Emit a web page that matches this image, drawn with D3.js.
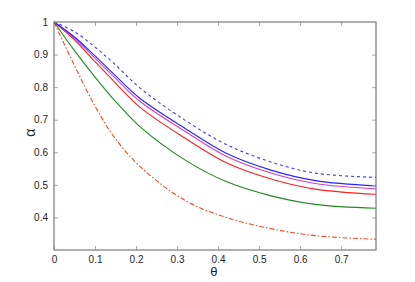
<!DOCTYPE html>
<html>
<head>
<meta charset="utf-8">
<script src="https://cdn.jsdelivr.net/npm/d3@7"></script>
<style>
  html, body { margin: 0; padding: 0; background: #fff; }
  svg { display: block; font-family: "Liberation Sans", Arial, sans-serif; }
</style>
</head>
<body>
<svg id="chart" width="415" height="282"></svg>
<script>
// values
const thetaSamples = [0, 0.05, 0.1, 0.146, 0.21, 0.32, 0.42, 0.527, 0.637, 0.785];
const blueDashed = [1, 0.970, 0.923, 0.873, 0.797, 0.698, 0.624, 0.571, 0.536, 0.523];
const blueSolid = [1, 0.954, 0.896, 0.840, 0.765, 0.673, 0.597, 0.546, 0.513, 0.497];
const magentaSolid = [1, 0.950, 0.889, 0.832, 0.756, 0.664, 0.588, 0.537, 0.504, 0.488];
const redSolid = [1, 0.945, 0.878, 0.818, 0.738, 0.643, 0.568, 0.519, 0.487, 0.471];
const greenSolid = [1, 0.912, 0.831, 0.762, 0.678, 0.576, 0.510, 0.467, 0.440, 0.428];
const redDashDot = [1, 0.866, 0.742, 0.648, 0.556, 0.452, 0.400, 0.366, 0.344, 0.333];

const xTicks = [0, 0.1, 0.2, 0.3, 0.4, 0.5, 0.6, 0.7];
const yTicks = [0.4, 0.5, 0.6, 0.7, 0.8, 0.9, 1];

const seriesList = [
  { values: redDashDot, color: "#ee4a2a", dash: "5,2,1.5,2" },
  { values: greenSolid, color: "#1f8c1f", dash: null },
  { values: redSolid, color: "#ff1f1f", dash: null },
  { values: magentaSolid, color: "#cc3fd8", dash: null },
  { values: blueSolid, color: "#2626ff", dash: null },
  { values: blueDashed, color: "#3a3aff", dash: "3,3" }
];

const svg = d3.select("#chart");
const margin = { top: 22, right: 39, bottom: 32, left: 54 };
const width = 415;
const height = 282;

const x = d3.scaleLinear()
  .domain([0, 0.785])
  .range([margin.left, width - margin.right]);

const y = d3.scaleLinear()
  .domain([0.3, 1])
  .range([height - margin.bottom, margin.top]);

const line = d3.line()
  .x((d) => x(d[0]))
  .y((d) => y(d[1]))
  .curve(d3.curveCatmullRom.alpha(0.5));

seriesList.forEach((s) => {
  svg.append("path")
    .datum(thetaSamples.map((t, i) => [t, s.values[i]]))
    .attr("fill", "none")
    .attr("stroke", s.color)
    .attr("stroke-width", 1.1)
    .attr("stroke-dasharray", s.dash)
    .attr("d", line);
});

const tickLen = 4;
const axisColor = "#7a7a7a";

// bottom axis with inward ticks
svg.append("g")
  .attr("transform", `translate(0,${height - margin.bottom})`)
  .call(d3.axisBottom(x).tickValues(xTicks).tickSize(-tickLen).tickPadding(6).tickFormat(d3.format("")))
  .call((g) => g.select(".domain").remove())
  .call((g) => g.selectAll("line").attr("stroke", "#aaa"))
  .call((g) => g.selectAll("text").attr("font-size", 10).attr("fill", "#222"));

// top ticks
svg.append("g")
  .attr("transform", `translate(0,${margin.top})`)
  .call(d3.axisTop(x).tickValues(xTicks.slice(1)).tickSize(-tickLen).tickFormat(""))
  .call((g) => g.select(".domain").remove())
  .call((g) => g.selectAll("line").attr("stroke", "#aaa"));

// left axis
svg.append("g")
  .attr("transform", `translate(${margin.left},0)`)
  .call(d3.axisLeft(y).tickValues(yTicks).tickSize(-tickLen).tickPadding(6).tickFormat(d3.format("")))
  .call((g) => g.select(".domain").remove())
  .call((g) => g.selectAll("line").attr("stroke", "#aaa"))
  .call((g) => g.selectAll("text").attr("font-size", 10).attr("fill", "#222"));

// right ticks
svg.append("g")
  .attr("transform", `translate(${width - margin.right},0)`)
  .call(d3.axisRight(y).tickValues(yTicks.slice(0, -1)).tickSize(-tickLen).tickFormat(""))
  .call((g) => g.select(".domain").remove())
  .call((g) => g.selectAll("line").attr("stroke", "#aaa"));

// box
svg.append("rect")
  .attr("x", margin.left)
  .attr("y", margin.top)
  .attr("width", width - margin.left - margin.right)
  .attr("height", height - margin.top - margin.bottom)
  .attr("fill", "none")
  .attr("stroke", axisColor)
  .attr("stroke-width", 1.2);

svg.append("text")
  .attr("x", x(0.39))
  .attr("y", 276)
  .attr("text-anchor", "middle")
  .attr("font-size", 13)
  .attr("fill", "#222")
  .text("θ");

svg.append("text")
  .attr("transform", `translate(35,${y(0.66)}) rotate(-90)`)
  .attr("text-anchor", "middle")
  .attr("font-size", 14)
  .attr("fill", "#222")
  .text("α");
</script>
</body>
</html>
